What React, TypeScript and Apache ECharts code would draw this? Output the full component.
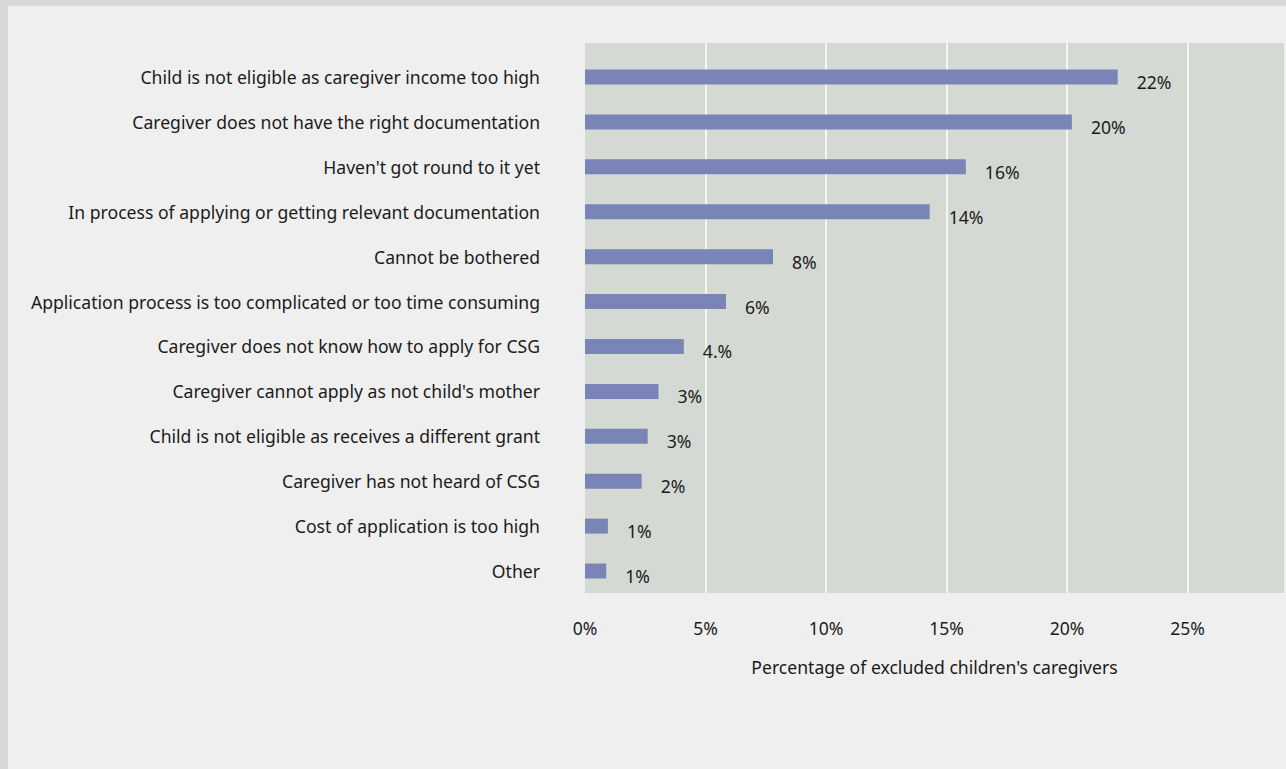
import React, { useEffect, useRef } from "react";
import * as echarts from "echarts";

const categories = [
  "Child is not eligible as caregiver income too high",
  "Caregiver does not have the right documentation",
  "Haven't got round to it yet",
  "In process of applying or getting relevant documentation",
  "Cannot be bothered",
  "Application process is too complicated or too time consuming",
  "Caregiver does not know how to apply for CSG",
  "Caregiver cannot apply as not child's mother",
  "Child is not eligible as receives a different grant",
  "Caregiver has not heard of CSG",
  "Cost of application is too high",
  "Other",
];
const values = [22.1, 20.2, 15.8, 14.3, 7.8, 5.85, 4.1, 3.05, 2.6, 2.35, 0.95, 0.88];
const valueLabels = ["22%", "20%", "16%", "14%", "8%", "6%", "4.%", "3%", "3%", "2%", "1%", "1%"];
const axisTitle = "Percentage of excluded children's caregivers";

const FONT = "Noto Sans";
const TEXT = "#1b1b1b";
const FS = 17.6;

export default function App() {
  const ref = useRef<HTMLDivElement>(null);
  useEffect(() => {
    if (!ref.current) return;
    const chart = echarts.init(ref.current, null, { renderer: "svg" });
    chart.setOption({
      animation: false,
      backgroundColor: "#efefef",
      textStyle: { fontFamily: FONT },
      graphic: [
        { type: "rect", shape: { x: 0, y: 0, width: 1286, height: 6 }, style: { fill: "#d6d9d6" }, silent: true },
        { type: "rect", shape: { x: 0, y: 0, width: 8, height: 769 }, style: { fill: "#d6d9d6" }, silent: true },
      ],
      grid: [
        { left: 585, top: 43, width: 699, height: 550, show: true, backgroundColor: "#d4d9d3", borderWidth: 0 },
        { left: 585, top: 54.5, width: 699, height: 539, show: false },
      ],
      xAxis: [
        {
          gridIndex: 0,
          type: "value",
          min: 0,
          max: 29,
          interval: 5,
          axisLine: { show: false },
          axisTick: { show: false },
          splitLine: { show: true, showMinLine: false, showMaxLine: false, lineStyle: { color: "#ffffff", width: 1.5 } },
          axisLabel: {
            formatter: (v: number) => (v % 5 === 0 ? `${v}%` : ""),
            showMaxLabel: false,
            color: TEXT,
            fontSize: FS,
            fontFamily: FONT,
            margin: 26,
          },
          name: axisTitle,
          nameLocation: "middle",
          nameGap: 65,
          nameTextStyle: { color: TEXT, fontSize: FS, fontFamily: FONT },
        },
        {
          gridIndex: 1,
          type: "value",
          min: 0,
          max: 29,
          show: false,
        },
      ],
      yAxis: [
        { gridIndex: 0, type: "value", show: false },
        {
          gridIndex: 1,
          type: "category",
          data: categories,
          inverse: true,
          axisLine: { show: false },
          axisTick: { show: false },
          axisLabel: { color: TEXT, fontSize: FS, fontFamily: FONT, margin: 45 },
        },
      ],
      series: [
        {
          type: "bar",
          xAxisIndex: 1,
          yAxisIndex: 1,
          data: values,
          barWidth: 15,
          itemStyle: { color: "#7985b7" },
          label: {
            show: true,
            position: "right",
            distance: 19,
            offset: [0, 5],
            color: TEXT,
            fontSize: FS,
            fontFamily: FONT,
            formatter: (p: any) => valueLabels[p.dataIndex],
          },
        },
      ],
    });
    return () => chart.dispose();
  }, []);
  return (
    <div
      ref={ref}
      style={{ position: "absolute", left: 0, top: 0, width: 1286, height: 769 }}
    />
  );
}
